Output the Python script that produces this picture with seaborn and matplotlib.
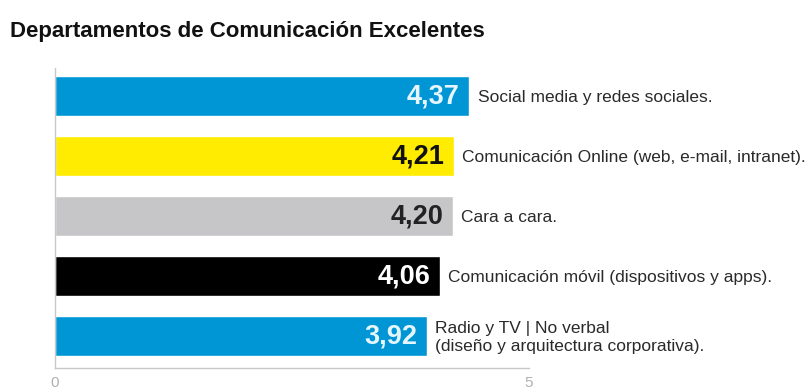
import matplotlib
matplotlib.use("Agg")
import matplotlib.pyplot as plt
import seaborn as sns
import pandas as pd

sns.set_theme(style="white")
plt.rcParams["font.family"] = ["Liberation Sans", "DejaVu Sans"]

# Data
categories = [
    "Social media y redes sociales.",
    "Comunicación Online (web, e-mail, intranet).",
    "Cara a cara.",
    "Comunicación móvil (dispositivos y apps).",
    "Radio y TV | No verbal\n(diseño y arquitectura corporativa).",
]
scores = [4.37, 4.21, 4.20, 4.06, 3.92]
value_labels = ["4,37", "4,21", "4,20", "4,06", "3,92"]
bar_colors = ["#0096d6", "#ffec00", "#c6c6c8", "#000000", "#0096d6"]
value_colors = ["#e6f6ff", "#111111", "#222222", "#ffffff", "#e6f6ff"]
tick_values = [0, 5]
tick_labels = ["0", "5"]

df = pd.DataFrame({"categoria": categories, "valor": scores})

fig = plt.figure(figsize=(8.10, 3.89), dpi=100)
ax = fig.add_axes([55 / 810, 1 - 368 / 389, 474 / 810, 300 / 389])

sns.barplot(
    data=df, x="valor", y="categoria", hue="categoria",
    palette=bar_colors, legend=False, width=0.667, ax=ax,
    orient="h", saturation=1,
)

ax.set_xlim(0, 5)
ax.set_ylim(4.533, -0.467)
ax.set_xlabel("")
ax.set_ylabel("")
ax.set_yticks([])
ax.set_xticks(tick_values)
ax.set_xticklabels(tick_labels, color="#b0b0b0", fontsize=11)
ax.tick_params(axis="x", direction="in", length=4, width=0.8, color="#b8b8b8", pad=6)

for side in ["top", "right"]:
    ax.spines[side].set_visible(False)
for side in ["left", "bottom"]:
    ax.spines[side].set_color("#c8c8c8")
    ax.spines[side].set_linewidth(1.0)

for i, (v, lab, vc, cat) in enumerate(zip(scores, value_labels, value_colors, categories)):
    ax.annotate(lab, xy=(v, i), xytext=(-7, 0), textcoords="offset points",
                ha="right", va="center", fontsize=19.5, fontweight="bold", color=vc)
    ax.annotate(cat, xy=(v, i), xytext=(6, -1), textcoords="offset points",
                ha="left", va="center", fontsize=12.5, color="#2a2a2a",
                linespacing=1.3, annotation_clip=False)

fig.text(10 / 810, 1 - 31 / 389, "Departamentos de Comunicación Excelentes",
         fontsize=16, fontweight="bold", color="#111111", ha="left", va="center")

fig.savefig("out.png", dpi=100)
